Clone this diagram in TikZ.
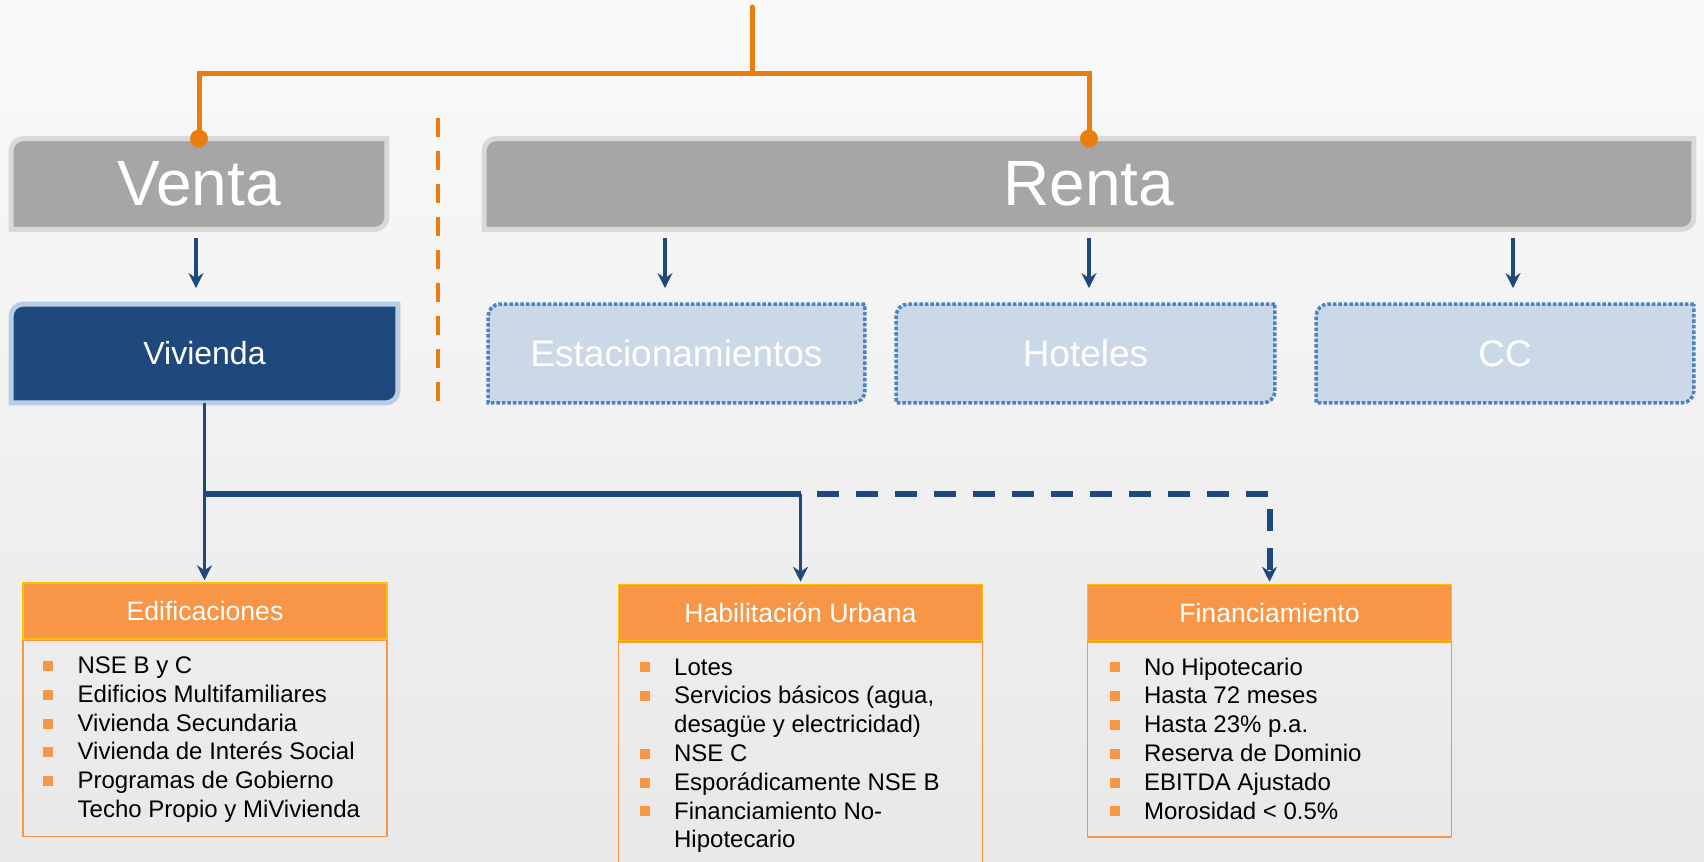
\documentclass[tikz,border=0pt]{standalone}
\usepackage{fontspec}
\setmainfont{Liberation Sans}
\usetikzlibrary{arrows.meta,backgrounds}

\definecolor{lineorange}{RGB}{235,125,15}
\definecolor{boxgray}{RGB}{166,166,166}
\definecolor{rimgray}{RGB}{217,217,217}
\definecolor{navy}{RGB}{31,73,125}
\definecolor{rimblue}{RGB}{185,205,229}
\definecolor{paleblue}{RGB}{203,216,232}
\definecolor{dotblue}{RGB}{79,129,189}
\definecolor{headorange}{RGB}{247,150,70}
\definecolor{headrim}{RGB}{255,192,0}

% orange square bullet
\newcommand{\itm}{\strut\llap{\textcolor{headorange}{\rule[1.3pt]{5pt}{5pt}}\hspace{12.3pt}}}
% box with rounded top-left and bottom-right corners, drawn behind the node
\newcommand{\cutbox}[2]{%
  \begin{pgfonlayer}{background}
  \path[#2] (#1.north east) -- ([xshift=6pt]#1.north west)
    arc[start angle=90,end angle=180,radius=6pt] -- (#1.south west)
    -- ([xshift=-6pt]#1.south east)
    arc[start angle=270,end angle=360,radius=6pt] -- cycle;
  \end{pgfonlayer}}

\begin{document}
\begin{tikzpicture}[x=0.5pt,y=-0.5pt,
  big/.style={inner sep=0pt, text=white, minimum height=45pt,
    font=\fontsize{32}{38}\selectfont},
  sub/.style={inner sep=0pt, text=white, minimum height=49pt,
    font=\fontsize{18.5}{22}\selectfont},
  head/.style={draw=headrim, line width=0.75pt, fill=headorange, text=white,
    inner sep=0pt, minimum width=182pt, minimum height=28pt,
    font=\fontsize{13.3}{16}\selectfont},
  body/.style={draw=headorange, line width=0.75pt, inner sep=0pt,
    minimum width=182pt, anchor=north},
  list/.style={inner sep=0pt, anchor=north west, align=left,
    font=\fontsize{12}{14.4}\selectfont},
  oline/.style={lineorange, line width=2.5pt, line cap=round},
  arr/.style={navy, line width=1.75pt,
    -{Stealth[length=7.5pt,width=7.5pt,inset=2.5pt]}},
  busline/.style={navy, line width=3pt}]

  \path[use as bounding box, clip] (0,0) rectangle (1704,862);
  \begin{pgfonlayer}{background}
    \shade[top color=white!98!black, bottom color=white!91!black]
      (0,0) rectangle (1704,862);
  \end{pgfonlayer}

  % top level
  \node[big, minimum width=187.5pt] (venta) at (199,184) {Venta};
  \cutbox{venta}{fill=boxgray, draw=rimgray, line width=2.5pt}
  \node[big, minimum width=604.5pt] (renta) at (1089,184) {Renta};
  \cutbox{renta}{fill=boxgray, draw=rimgray, line width=2.5pt}

  % second level
  \node[sub, font=\fontsize{16}{19}\selectfont, minimum width=193pt]
    (vivienda) at (204.5,353.5) {Vivienda};
  \cutbox{vivienda}{fill=navy, draw=rimblue, line width=2.5pt}
  \node[sub, minimum width=188pt] (estac) at (676.5,353.5) {Estacionamientos};
  \node[sub, minimum width=189pt] (hoteles) at (1085.5,353.5) {Hoteles};
  \node[sub, minimum width=188.5pt] (cc) at (1505,353.5) {CC};
  \foreach \n in {estac,hoteles,cc}
    \cutbox{\n}{fill=paleblue, draw=dotblue, line width=1.75pt,
      dash pattern=on 1.75pt off 1pt};

  % orange tree
  \coordinate (root) at (752,7);
  \coordinate (fork) at (752,73);
  \draw[oline] (root) -- (fork);
  \draw[oline, line cap=butt] (venta.north) -- (venta.north |- fork)
    -- (renta.north |- fork) -- (renta.north);
  \fill[lineorange] (venta.north) circle[radius=4.5pt];
  \fill[lineorange] (renta.north) circle[radius=4.5pt];

  % divider
  \draw[lineorange, line width=2pt, dash pattern=on 9.5pt off 7pt]
    (438,118) -- (438,405);

  % arrows to second level
  \draw[arr, shorten <=4.5pt, shorten >=8pt]
    ([xshift=-1.5pt]venta.south) -- ([xshift=-1.5pt]venta.south |- vivienda.north);
  \foreach \dx/\lo in {-212/estac, 0/hoteles, 212/cc}
    \draw[arr, shorten <=4.5pt, shorten >=8pt]
      ([xshift=\dx pt]renta.south) -- ([xshift=\dx pt]renta.south |- \lo.north);

  % third level
  \node[head] (edif) at (205,611) {Edificaciones};
  \node[head] (hab) at (800.5,612.5) {Habilitación Urbana};
  \node[head] (fin) at (1269.5,612.5) {Financiamiento};
  \node[body, minimum height=98pt] (edifb) at (edif.south) {};
  \node[body, minimum height=130pt] (habb) at (hab.south) {};
  \node[body, minimum height=97.5pt] (finb) at (fin.south) {};

  \node[list] (edifl) at ([xshift=27.5pt,yshift=-6.6pt]edifb.north west)
    {\itm NSE B y C\\ \itm Edificios Multifamiliares\\ \itm Vivienda Secundaria\\
     \itm Vivienda de Interés Social\\ \itm Programas de Gobierno\\
     \strut Techo Propio y MiVivienda};
  \node[list] (habl) at ([xshift=28pt,yshift=-6.6pt]habb.north west)
    {\itm Lotes\\ \itm Servicios básicos (agua,\\ \strut desagüe y electricidad)\\
     \itm NSE C\\ \itm Esporádicamente NSE B\\ \itm Financiamiento No-\\
     \strut Hipotecario};
  \node[list] (finl) at ([xshift=28.5pt,yshift=-6.6pt]finb.north west)
    {\itm No Hipotecario\\ \itm Hasta 72 meses\\ \itm Hasta 23\% p.a.\\
     \itm Reserva de Dominio\\ \itm EBITDA Ajustado\\ \itm Morosidad < 0.5\%};

  % connectors from Vivienda
  \coordinate (bus) at (204,494);
  \draw[arr, shorten >=1pt] (vivienda.south) -- (vivienda.south |- edif.north);
  \draw[busline] (vivienda.south |- bus) -- (hab.north |- bus);
  \draw[arr, shorten >=1pt] (hab.north |- bus) -- (hab.north);
  \draw[busline, dash pattern=on 11pt off 8.5pt,
    -{Stealth[length=7.5pt,width=7.5pt,inset=2.5pt]}, shorten >=1pt]
    ([xshift=8pt]hab.north |- bus) -| (fin.north);
\end{tikzpicture}
\end{document}
